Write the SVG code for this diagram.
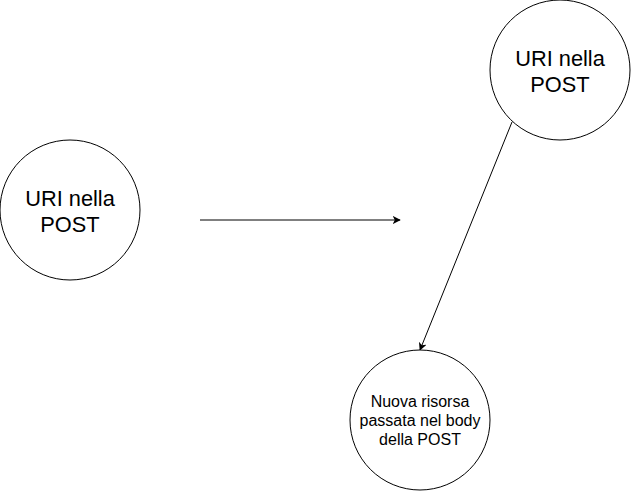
<svg xmlns="http://www.w3.org/2000/svg" width="631" height="491" viewBox="0 0 631 491">
<style>
.n{fill:#fff;stroke:#000;stroke-width:1}
.t{font-family:"Liberation Sans",Arial,sans-serif;fill:#000;text-anchor:middle}
.b{font-size:21.8px}
.s{font-size:16px}
.c{stroke:#000;stroke-width:1;fill:none}
</style>
<defs>
<marker id="ah" viewBox="0 0 10 10" refX="9" refY="5" markerWidth="8" markerHeight="8" markerUnits="userSpaceOnUse" orient="auto">
<path d="M0,0 L10,5 L0,10 L2.5,5 Z" fill="#000"/>
</marker>
</defs>
<g id="connectors">
<line class="c" x1="200" y1="220" x2="400" y2="220" marker-end="url(#ah)"/>
<line class="c" x1="512" y1="122" x2="420" y2="350" marker-end="url(#ah)"/>
</g>
<g id="node-left">
<circle class="n" cx="70" cy="210" r="70"/>
<text class="t b" x="70" y="206">URI nella</text>
<text class="t b" x="70" y="232">POST</text>
</g>
<g id="node-top">
<circle class="n" cx="560" cy="70" r="70"/>
<text class="t b" x="560" y="66">URI nella</text>
<text class="t b" x="560" y="92">POST</text>
</g>
<g id="node-bottom">
<circle class="n" cx="420" cy="420" r="70"/>
<text class="t s" x="420" y="407">Nuova risorsa</text>
<text class="t s" x="420" y="426">passata nel body</text>
<text class="t s" x="420" y="445">della POST</text>
</g>
</svg>
